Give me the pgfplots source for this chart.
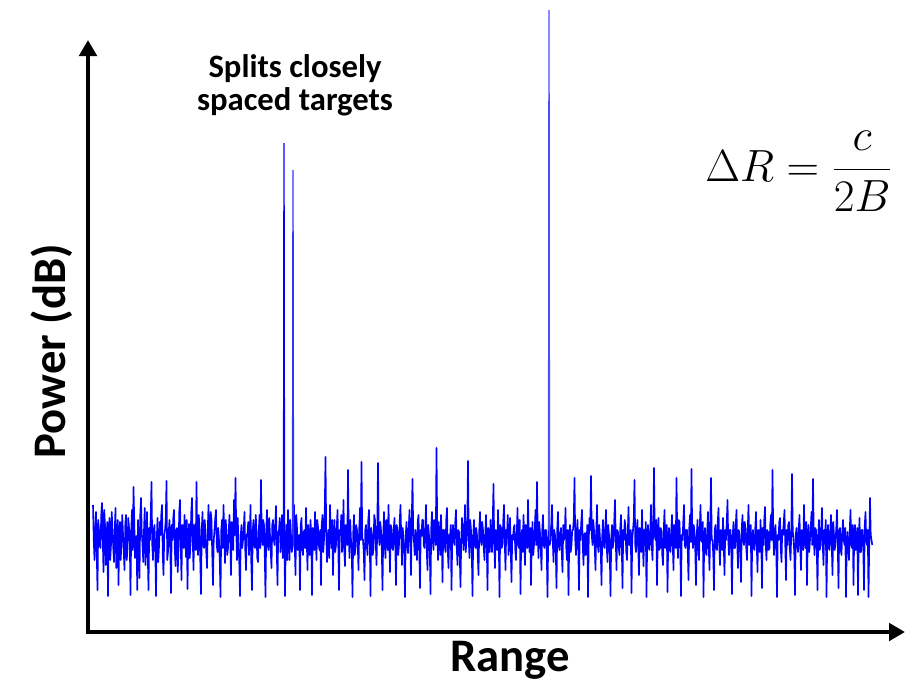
\documentclass[border=0pt]{standalone}
\usepackage{pgfplots}
\pgfplotsset{compat=1.18}
\usepackage{pgfplotstable}
\usepackage{fontspec}
\setmainfont{Carlito}
\usetikzlibrary{arrows.meta}

\pgfplotstableread[header=false,row sep=\\]{
505\\540\\560\\528\\512\\555\\590\\520\\530\\545\\548\\515\\503\\538\\572\\510\\525\\565\\540\\522\\596\\535\\518\\560\\545\\512\\530\\548\\562\\530\\508\\568\\550\\520\\585\\535\\522\\560\\541\\515\\
533\\552\\570\\525\\515\\560\\549\\518\\527\\540\\595\\530\\510\\550\\487\\520\\558\\538\\536\\590\\520\\545\\578\\515\\498\\532\\545\\562\\530\\508\\565\\540\\512\\555\\590\\528\\540\\515\\482\\545\\
560\\530\\525\\548\\596\\540\\518\\562\\547\\522\\535\\515\\505\\555\\575\\535\\530\\520\\481\\560\\552\\532\\520\\545\\593\\525\\540\\518\\510\\548\\566\\530\\528\\572\\550\\512\\500\\545\\580\\525\\
538\\548\\515\\535\\557\\520\\589\\540\\524\\558\\545\\512\\498\\540\\570\\525\\532\\550\\482\\538\\555\\515\\527\\560\\594\\530\\512\\545\\548\\520\\535\\552\\568\\530\\505\\540\\540\\512\\520\\555\\
585\\540\\530\\518\\510\\545\\552\\528\\540\\560\\597\\530\\520\\548\\505\\535\\563\\520\\535\\555\\548\\530\\515\\540\\575\\522\\528\\550\\500\\535\\478\\530\\560\\518\\545\\562\\596\\535\\525\\548\\
540\\528\\512\\550\\570\\535\\533\\522\\555\\540\\505\\562\\590\\530\\520\\545\\548\\515\\530\\558\\562\\532\\515\\548\\480\\535\\545\\520\\525\\555\\597\\530\\510\\545\\550\\518\\535\\552\\568\\525\\
520\\538\\545\\525\\506\\550\\585\\532\\530\\518\\552\\540\\515\\558\\540\\522\\596\\545\\525\\560\\510\\535\\560\\520\\535\\552\\548\\528\\505\\545\\575\\515\\528\\550\\542\\535\\590\\525\\518\\548\\
555\\532\\530\\548\\508\\540\\570\\525\\538\\555\\520\\535\\595\\528\\545\\550\\512\\538\\560\\520\\527\\545\\550\\530\\585\\525\\515\\552\\540\\510\\457\\535\\562\\540\\530\\558\\505\\532\\548\\520\\
575\\540\\520\\552\\545\\528\\510\\545\\590\\530\\535\\515\\552\\538\\500\\550\\566\\525\\528\\545\\470\\535\\558\\520\\540\\550\\597\\532\\515\\555\\548\\525\\530\\545\\570\\528\\508\\540\\462\\538\\
540\\552\\580\\530\\525\\545\\555\\520\\510\\540\\596\\528\\535\\555\\548\\515\\520\\542\\565\\530\\463\\535\\545\\522\\530\\548\\590\\535\\512\\545\\558\\520\\538\\550\\505\\540\\572\\525\\528\\548\\
550\\530\\518\\545\\585\\525\\532\\555\\545\\520\\505\\538\\565\\528\\540\\550\\597\\535\\522\\545\\553\\528\\510\\540\\575\\520\\479\\532\\542\\555\\530\\545\\560\\522\\515\\548\\588\\530\\536\\520\\
520\\545\\548\\530\\505\\552\\570\\525\\535\\548\\594\\528\\512\\540\\550\\520\\528\\545\\448\\530\\560\\522\\540\\555\\515\\538\\582\\530\\530\\545\\552\\520\\508\\550\\568\\535\\538\\525\\590\\540\\
525\\538\\545\\522\\510\\548\\565\\530\\532\\555\\587\\540\\518\\528\\550\\535\\505\\552\\540\\525\\461\\540\\558\\520\\530\\550\\596\\535\\520\\545\\548\\528\\535\\555\\575\\530\\512\\540\\545\\522\\
530\\548\\560\\535\\515\\545\\590\\528\\540\\552\\520\\538\\552\\520\\484\\545\\568\\530\\535\\550\\510\\538\\597\\525\\528\\548\\545\\520\\505\\542\\570\\530\\538\\515\\555\\540\\518\\550\\582\\535\\
540\\528\\525\\550\\560\\535\\508\\545\\548\\520\\594\\538\\530\\552\\515\\540\\565\\525\\537\\548\\500\\535\\552\\528\\585\\540\\522\\555\\545\\530\\510\\545\\482\\535\\558\\522\\533\\548\\570\\530\\
515\\545\\548\\530\\530\\552\\597\\538\\520\\545\\540\\525\\505\\540\\562\\530\\535\\550\\588\\528\\512\\545\\550\\535\\528\\552\\572\\525\\540\\535\\508\\548\\560\\530\\595\\540\\525\\552\\545\\530\\
530\\520\\478\\540\\555\\532\\520\\548\\590\\530\\540\\522\\510\\545\\565\\535\\533\\555\\548\\525\\597\\540\\518\\530\\476\\535\\545\\520\\530\\548\\570\\532\\505\\545\\552\\525\\538\\550\\585\\535\\
520\\545\\548\\530\\510\\548\\562\\525\\535\\552\\596\\538\\525\\548\\542\\520\\500\\540\\570\\530\\532\\548\\555\\528\\515\\545\\588\\530\\540\\520\\528\\552\\560\\535\\507\\545\\545\\530\\593\\540\\
530\\520\\480\\545\\552\\530\\520\\548\\575\\528\\538\\552\\510\\540\\566\\530\\545\\522\\597\\538\\525\\548\\550\\530\\505\\545\\560\\525\\468\\535\\540\\520\\585\\540\\518\\550\\548\\528\\532\\555\\
565\\530\\510\\548\\545\\525\\592\\540\\528\\550\\552\\530\\515\\545\\570\\525\\535\\548\\478\\535\\558\\520\\522\\545\\596\\535\\540\\522\\505\\545\\548\\530\\530\\552\\580\\528\\515\\542\\469\\535\\
548\\525\\532\\550\\585\\535\\520\\545\\560\\528\\505\\540\\542\\522\\597\\538\\528\\552\\555\\530\\512\\548\\570\\525\\478\\540\\540\\555\\590\\530\\525\\548\\550\\522\\508\\545\\565\\530\\535\\550\\
518\\545\\575\\530\\540\\522\\500\\540\\555\\530\\530\\550\\594\\535\\522\\548\\548\\525\\510\\545\\568\\530\\535\\550\\582\\528\\515\\540\\545\\522\\528\\548\\560\\530\\505\\545\\540\\525\\596\\538\\
530\\548\\550\\528\\512\\545\\572\\530\\538\\552\\520\\540\\588\\528\\545\\520\\507\\545\\560\\530\\532\\550\\548\\525\\515\\540\\470\\535\\555\\530\\525\\548\\597\\535\\540\\522\\518\\548\\562\\530\\
535\\522\\510\\545\\580\\530\\545\\525\\522\\548\\560\\535\\474\\530\\540\\552\\595\\535\\528\\545\\552\\528\\515\\548\\570\\530\\533\\550\\505\\540\\548\\522\\585\\538\\525\\552\\540\\528\\512\\545\\
479\\535\\555\\528\\530\\548\\590\\535\\520\\550\\545\\528\\508\\545\\565\\530\\538\\520\\597\\540\\525\\548\\550\\530\\515\\545\\575\\522\\535\\550\\542\\528\\510\\545\\588\\530\\528\\550\\555\\532\\
520\\540\\545\\528\\597\\545\\532\\550\\560\\530\\510\\545\\548\\525\\585\\535\\525\\550\\540\\528\\595\\540\\518\\552\\552\\530\\530\\548\\590\\525\\512\\540\\545\\530\\597\\545\\498\\535\\540\\545\\
}\noisetable

\begin{document}
\begin{tikzpicture}
\begin{axis}[
  scale only axis, width=691.5pt, height=510.75pt,
  xmin=0, xmax=922, ymin=0, ymax=681, y dir=reverse,
  axis lines=none, ticks=none, clip=false,
]
\path (axis cs:0,0) rectangle (axis cs:922,681);
\addplot[blue, line width=1.2pt, line join=round] table[x expr=93+0.75*\coordindex, y index=0] {\noisetable};
\addplot[blue, line width=1pt] coordinates {(283.5,540) (284,143) (284.5,528)};
\addplot[blue!80, line width=1pt] coordinates {(292.5,535) (293,170) (293.5,545)};
\addplot[blue!70, line width=1pt] coordinates {(548.5,530) (549,10) (549.5,540)};
\draw[line width=3pt, -{Triangle[length=12pt,width=13pt]}] (axis cs:88,634) -- (axis cs:88,40);
\draw[line width=3pt, -{Triangle[length=12pt,width=13pt]}] (axis cs:86,632) -- (axis cs:905,632);
\node[rotate=90, anchor=base, font=\bfseries\fontsize{35}{40}\selectfont] at (axis cs:66,351) {Power (dB)};
\node[anchor=base, font=\bfseries\fontsize{35}{40}\selectfont] at (axis cs:510,671) {Range};
\node[align=center, font=\bfseries\fontsize{24.5}{24.75}\selectfont] at (axis cs:295,85) {Splits closely\\spaced targets};
\node[anchor=base, scale=1.36, font=\fontsize{24.88}{30}\selectfont] at (axis cs:799,181) {$\displaystyle \Delta R = \frac{c}{2B}$};
\end{axis}
\end{tikzpicture}
\end{document}
